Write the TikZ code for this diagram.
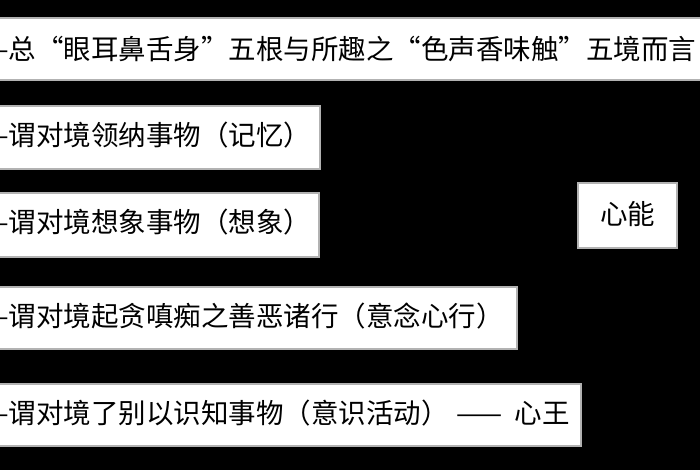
\documentclass[tikz,border=0pt]{standalone}
\usepackage{fontspec}
\newfontfamily\cjk{Noto Sans CJK SC}
\begin{document}
\begin{tikzpicture}[x=1pt,y=-1pt,
  bx/.style={draw=gray!60,line width=1.2pt,fill=white},
  tx/.style={anchor=west,inner sep=0pt,font=\cjk\fontsize{27.5}{31}\selectfont}]
\useasboundingbox (0,0) rectangle (700,470);
\clip (0,0) rectangle (700,470);
\fill[black] (0,0) rectangle (700,470);
\draw[bx] (-5,18) rectangle (710,80);
\draw[bx] (-5,106) rectangle (320,169);
\draw[bx] (-5,193) rectangle (319,257);
\draw[bx] (-5,287) rectangle (517,349);
\draw[bx] (-5,384) rectangle (581,446);
\draw[bx] (578,183) rectangle (677,248);
\node[tx] (t1) at (-16,49) {—总“眼耳鼻舌身”五根与所趣之“色声香味触”五境而言};
\node[tx] (t2) at (-16,135) {—谓对境领纳事物（记忆）};
\node[tx] (t3) at (-16,222) {—谓对境想象事物（想象）};
\node[tx] (t4) at (-16,316) {—谓对境起贪嗔痴之善恶诸行（意念心行）};
\node[tx] (t5) at (-16,413) {—谓对境了别以识知事物（意识活动）\hspace{8pt}——\hspace{12pt}心王};
\node[tx,anchor=center] (t6) at (627.5,214) {心能};
\end{tikzpicture}
\end{document}
